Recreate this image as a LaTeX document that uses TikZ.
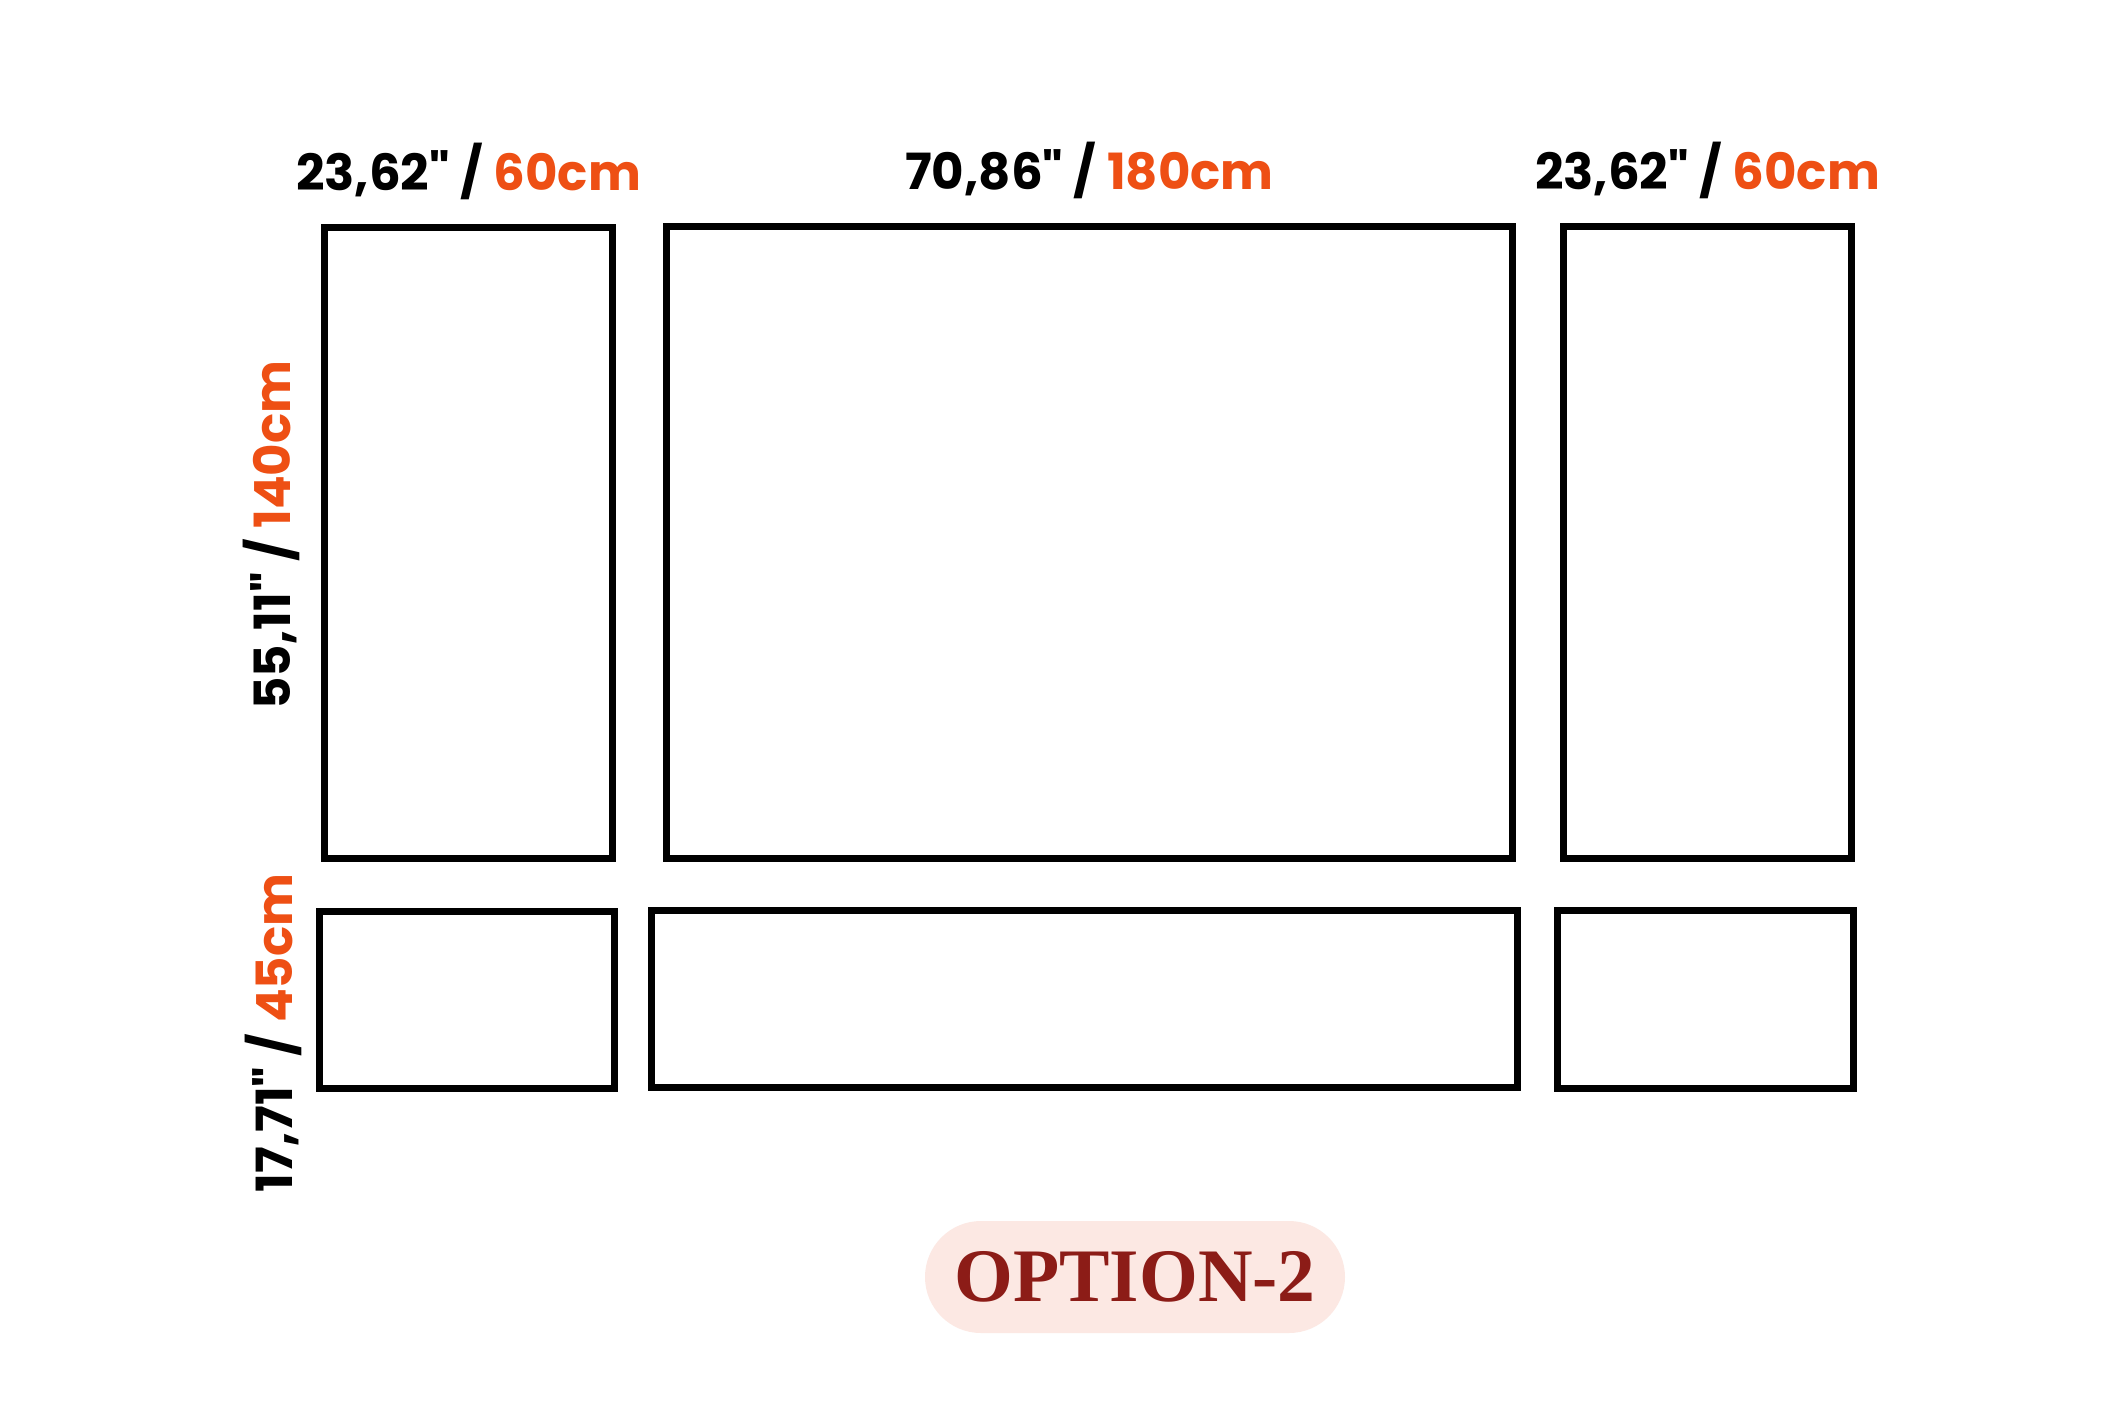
\documentclass[tikz,border=0pt]{standalone}
\usepackage{fontspec}
\usepackage{xcolor}
\usepackage{tikz}
\usetikzlibrary{positioning,calc}

\newfontfamily\dimfont{Poppins}
\newfontfamily\optfont{Liberation Serif}
\definecolor{dimorange}{HTML}{EE4F14}
\definecolor{optred}{HTML}{8C1C17}
\definecolor{optpink}{HTML}{FCE8E3}

\begin{document}
\begin{tikzpicture}[
    panel/.style={rectangle, draw, line width=2.1pt, inner sep=0pt},
    dimlabel/.style={inner sep=0pt, font=\dimfont\bfseries\fontsize{14.2pt}{17pt}\selectfont},
    pill/.style={rectangle, fill=optpink, rounded corners=0.56cm, minimum width=4.2cm, minimum height=1.12cm, text=optred, font=\optfont\bfseries\fontsize{21.5pt}{25pt}\selectfont}
]

\fill[white] (0,0) rectangle (21.12,-14.08);
\useasboundingbox (0,0) rectangle (21.12,-14.08);

% Top row
\node[panel, minimum width=2.876cm, minimum height=6.306cm] (tl) at (4.685,-5.43) {};
\node[panel, minimum width=8.456cm, minimum height=6.316cm] (tm) at (10.895,-5.425) {};
\node[panel, minimum width=2.876cm, minimum height=6.316cm] (tr) at (17.075,-5.425) {};

% Bottom row
\node[panel, minimum width=2.946cm, minimum height=1.766cm] (bl) at (4.67,-10.0) {};
\node[panel, minimum width=8.656cm, minimum height=1.766cm] (bm) at (10.845,-9.99) {};
\node[panel, minimum width=2.956cm, minimum height=1.776cm] (br) at (17.055,-9.995) {};

% Widths
\node[dimlabel, above=0.23cm of tl] (wl) {23,62" / \textcolor{dimorange}{60cm}};
\node[dimlabel, above=0.23cm of tm] (wm) {70,86" / \textcolor{dimorange}{180cm}};
\node[dimlabel, above=0.23cm of tr] (wr) {23,62" / \textcolor{dimorange}{60cm}};

% Heights
\node[dimlabel, rotate=90, anchor=south] (ht) at ($(tl.west)+(-0.2,0.08)$) {55,11" / \textcolor{dimorange}{140cm}};
\node[dimlabel, rotate=90, anchor=south] (hb) at ($(bl.west)+(-0.13,-0.33)$) {17,71" / \textcolor{dimorange}{45cm}};

% Caption
\node[pill] (opt) at (11.35,-12.77) {OPTION-2};

\end{tikzpicture}
\end{document}
